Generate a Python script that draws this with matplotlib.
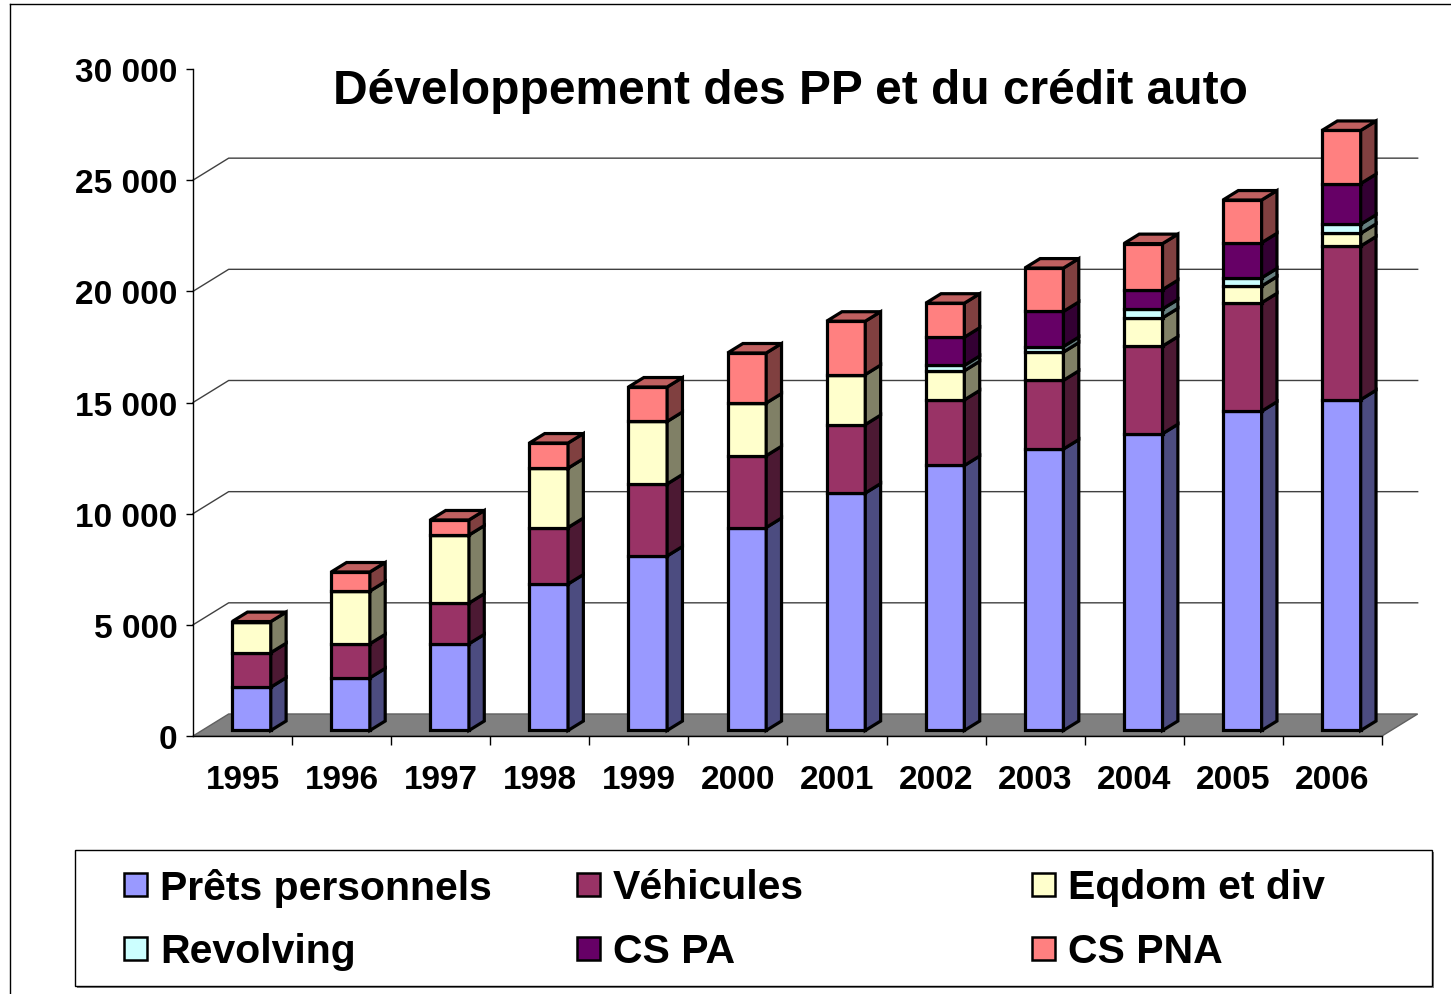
import numpy as np
import matplotlib.pyplot as plt
from matplotlib.patches import Polygon, Rectangle
from matplotlib.ticker import FuncFormatter

plt.rcParams['font.family'] = ['Liberation Sans', 'DejaVu Sans']
plt.rcParams['font.weight'] = 'bold'

# data
years = ['1995', '1996', '1997', '1998', '1999', '2000',
         '2001', '2002', '2003', '2004', '2005', '2006']
prets = [1950, 2370, 3900, 6590, 7850, 9130, 10680, 11920, 12660, 13350, 14360, 14880]
vehicules = [1550, 1530, 1830, 2540, 3240, 3230, 3080, 2950, 3090, 3940, 4880, 6910]
eqdom = [1400, 2370, 3060, 2670, 2810, 2370, 2250, 1310, 1270, 1270, 750, 570]
revolving = [0, 0, 0, 0, 0, 0, 0, 240, 250, 400, 370, 410]
cs_pa = [0, 0, 0, 0, 0, 0, 0, 1270, 1580, 870, 1580, 1830]
cs_pna = [0, 860, 680, 1130, 1550, 2250, 2400, 1530, 1950, 2070, 1920, 2390]

series = [prets, vehicules, eqdom, revolving, cs_pa, cs_pna]
names = ['Prêts personnels', 'Véhicules', 'Eqdom et div',
         'Revolving', 'CS PA', 'CS PNA']
front_cols = ['#9999FF', '#993366', '#FFFFCC', '#CCFFFF', '#660066', '#FF8080']
side_cols = ['#4C4C80', '#4C1933', '#808066', '#668080', '#330033', '#804040']
top_col = '#C06060'

W, H = 1451, 995
fig = plt.figure(figsize=(W / 100, H / 100), dpi=100)

# overlay in pixel coords for frame, title, legend
over = fig.add_axes([0, 0, 1, 1], zorder=0)
over.set_xlim(0, W)
over.set_ylim(H, 0)
over.axis('off')

ax = fig.add_axes([193 / W, 1 - 737 / H, 1189 / W, 667 / H], zorder=1)
ax.set_xlim(-0.5, 11.5)
ax.set_ylim(0, 30000)
ax.patch.set_alpha(0)

# 3d depth of the floor in data units
DX, DY = 0.36, 990
F0, F1 = 0.25, 0.68
BW = 0.39
sdx = (F1 - F0) * DX
sdy = (F1 - F0) * DY

# floor
ax.add_patch(Polygon([(-0.5, 0), (11.5, 0), (11.5 + DX, DY), (-0.5 + DX, DY)],
                     closed=True, fc='#808080', ec='#606060', lw=1,
                     clip_on=False, zorder=1))

# back wall gridlines + side wall lines
for v in range(5000, 30000, 5000):
    ax.plot([-0.5, -0.5 + DX, 11.5 + DX], [v, v + DY, v + DY],
            color='#404040', lw=1, clip_on=False, zorder=1)

x = np.arange(len(years))
xf = x + F0 * DX
bottom = np.full(len(years), F0 * DY)
for vals, fc, sc in zip(series, front_cols, side_cols):
    vals = np.array(vals, dtype=float)
    ax.bar(xf, vals, BW, bottom=bottom, color=fc, edgecolor='black',
           linewidth=2.3, zorder=3, clip_on=False)
    for xi, b, v in zip(xf, bottom, vals):
        if v <= 0:
            continue
        x1 = xi + BW / 2
        ax.add_patch(Polygon([(x1, b), (x1 + sdx, b + sdy),
                              (x1 + sdx, b + v + sdy), (x1, b + v)],
                             closed=True, fc=sc, ec='black', lw=2.3,
                             joinstyle='miter', zorder=3, clip_on=False))
    bottom = bottom + vals

for xi, b in zip(xf, bottom):
    x0 = xi - BW / 2
    ax.add_patch(Polygon([(x0, b), (x0 + BW, b), (x0 + BW + sdx, b + sdy),
                          (x0 + sdx, b + sdy)],
                         closed=True, fc=top_col, ec='black', lw=2.3,
                         joinstyle='miter', zorder=3, clip_on=False))

# axes
for s in ['top', 'right']:
    ax.spines[s].set_visible(False)
ax.spines['left'].set_linewidth(1)
ax.spines['bottom'].set_linewidth(1)
ax.set_yticks(range(0, 30001, 5000))
ax.yaxis.set_major_formatter(FuncFormatter(lambda v, p: f"{int(v):,}".replace(',', ' ')))
ax.tick_params(axis='y', length=5, width=1, pad=6, labelsize=24)
ax.set_xticks(x)
ax.set_xticklabels(years)
ax.set_xticks(x + 0.5, minor=True)
ax.tick_params(axis='x', which='major', length=0, pad=20, labelsize=24)
ax.tick_params(axis='x', which='minor', length=6.5, width=1)

# title
over.text(790, 91, 'Développement des PP et du crédit auto', ha='center',
          va='center', fontsize=34.5, fontweight='bold')

# outer frame
over.plot([10, W], [5, 5], color='black', lw=1)
over.plot([10, 10], [5, H], color='black', lw=1)

# legend
over.add_patch(Rectangle((77, 853), 1357, 136, fc='#808080', ec='none'))
over.add_patch(Rectangle((75, 851), 1357, 136, fc='white', ec='black', lw=1))
col_x = [124, 577, 1032]
row_y = [885, 949]
for k, (nm, fc) in enumerate(zip(names, front_cols)):
    cx = col_x[k % 3]
    cy = row_y[k // 3]
    over.add_patch(Rectangle((cx, cy - 11.5), 23, 23, fc=fc, ec='black', lw=1.8))
    over.text(cx + 36, cy + 3, nm, ha='left', va='center', fontsize=29.5,
              fontweight='bold')

fig.savefig('out.png', dpi=100)
